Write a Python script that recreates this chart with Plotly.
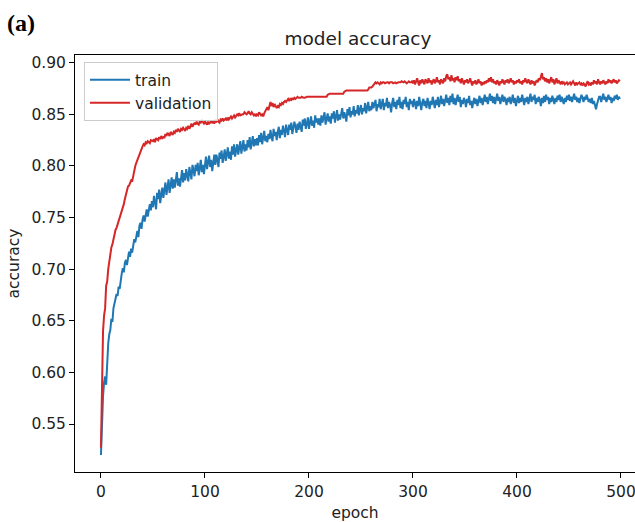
import plotly.graph_objects as go

epochs = list(range(500))

train_acc = [
    0.520, 0.561, 0.577, 0.590, 0.596, 0.588, 0.612, 0.628, 0.637, 0.641,
    0.652, 0.649, 0.662, 0.668, 0.671, 0.676, 0.674, 0.683, 0.681, 0.690,
    0.696, 0.701, 0.697, 0.706, 0.709, 0.704, 0.714, 0.717, 0.712, 0.720,
    0.716, 0.724, 0.729, 0.726, 0.733, 0.737, 0.731, 0.742, 0.745, 0.739,
    0.748, 0.752, 0.746, 0.755, 0.758, 0.751, 0.760, 0.763, 0.757, 0.766,
    0.760, 0.771, 0.765, 0.758, 0.774, 0.768, 0.777, 0.764, 0.772, 0.779,
    0.769, 0.780, 0.784, 0.772, 0.778, 0.787, 0.774, 0.783, 0.789, 0.778,
    0.787, 0.779, 0.790, 0.794, 0.781, 0.788, 0.780, 0.792, 0.796, 0.784,
    0.793, 0.786, 0.797, 0.791, 0.785, 0.799, 0.792, 0.787, 0.801, 0.794,
    0.790, 0.801, 0.795, 0.803, 0.791, 0.798, 0.806, 0.794, 0.801, 0.792,
    0.803, 0.809, 0.797, 0.804, 0.810, 0.799, 0.806, 0.795, 0.805, 0.811,
    0.801, 0.811, 0.806, 0.799, 0.813, 0.807, 0.815, 0.803, 0.809, 0.816,
    0.805, 0.812, 0.818, 0.807, 0.814, 0.806, 0.819, 0.811, 0.821, 0.809,
    0.815, 0.821, 0.811, 0.818, 0.824, 0.812, 0.819, 0.825, 0.814, 0.821,
    0.815, 0.825, 0.818, 0.828, 0.816, 0.823, 0.829, 0.819, 0.826, 0.820,
    0.827, 0.820, 0.830, 0.823, 0.832, 0.821, 0.828, 0.834, 0.824, 0.829,
    0.823, 0.831, 0.826, 0.835, 0.828, 0.824, 0.836, 0.829, 0.833, 0.825,
    0.833, 0.838, 0.827, 0.835, 0.830, 0.839, 0.834, 0.828, 0.840, 0.835,
    0.830, 0.840, 0.835, 0.842, 0.831, 0.837, 0.843, 0.838, 0.832, 0.841,
    0.835, 0.843, 0.838, 0.833, 0.845, 0.839, 0.846, 0.836, 0.841, 0.847,
    0.836, 0.843, 0.848, 0.839, 0.844, 0.837, 0.849, 0.842, 0.846, 0.840,
    0.846, 0.839, 0.849, 0.842, 0.847, 0.852, 0.840, 0.845, 0.851, 0.843,
    0.848, 0.841, 0.851, 0.846, 0.853, 0.842, 0.849, 0.854, 0.844, 0.850,
    0.845, 0.851, 0.856, 0.846, 0.852, 0.848, 0.843, 0.855, 0.849, 0.857,
    0.847, 0.853, 0.850, 0.858, 0.848, 0.854, 0.851, 0.859, 0.849, 0.855,
    0.859, 0.850, 0.856, 0.853, 0.861, 0.851, 0.857, 0.862, 0.853, 0.858,
    0.854, 0.862, 0.856, 0.859, 0.864, 0.853, 0.860, 0.857, 0.865, 0.855,
    0.860, 0.865, 0.854, 0.861, 0.858, 0.866, 0.856, 0.862, 0.859, 0.852,
    0.861, 0.866, 0.857, 0.862, 0.855, 0.864, 0.859, 0.867, 0.856, 0.862,
    0.855, 0.864, 0.860, 0.867, 0.857, 0.862, 0.854, 0.865, 0.860, 0.863,
    0.857, 0.865, 0.861, 0.855, 0.863, 0.858, 0.867, 0.860, 0.854, 0.862,
    0.865, 0.858, 0.863, 0.856, 0.866, 0.861, 0.855, 0.863, 0.859, 0.867,
    0.861, 0.856, 0.864, 0.859, 0.867, 0.857, 0.862, 0.868, 0.860, 0.865,
    0.858, 0.863, 0.869, 0.861, 0.866, 0.859, 0.868, 0.862, 0.870, 0.860,
    0.866, 0.859, 0.864, 0.869, 0.862, 0.867, 0.857, 0.864, 0.860, 0.866,
    0.863, 0.857, 0.865, 0.861, 0.868, 0.859, 0.863, 0.856, 0.862, 0.866,
    0.860, 0.865, 0.858, 0.863, 0.868, 0.861, 0.866, 0.859, 0.864, 0.869,
    0.862, 0.867, 0.860, 0.866, 0.870, 0.863, 0.868, 0.861, 0.867, 0.860,
    0.865, 0.870, 0.863, 0.867, 0.860, 0.865, 0.869, 0.862, 0.867, 0.864,
    0.859, 0.866, 0.862, 0.867, 0.860, 0.864, 0.869, 0.861, 0.866, 0.858,
    0.864, 0.868, 0.861, 0.866, 0.862, 0.869, 0.864, 0.859, 0.866, 0.862,
    0.867, 0.860, 0.865, 0.870, 0.862, 0.867, 0.864, 0.869, 0.860, 0.866,
    0.862, 0.867, 0.864, 0.858, 0.866, 0.861, 0.868, 0.862, 0.869, 0.864,
    0.867, 0.860, 0.866, 0.862, 0.868, 0.864, 0.860, 0.866, 0.862, 0.868,
    0.864, 0.869, 0.862, 0.867, 0.864, 0.860, 0.866, 0.862, 0.868, 0.864,
    0.869, 0.863, 0.867, 0.862, 0.866, 0.870, 0.864, 0.867, 0.862, 0.866,
    0.861, 0.865, 0.869, 0.866, 0.862, 0.867, 0.864, 0.869, 0.865, 0.862,
    0.865, 0.861, 0.866, 0.860, 0.863, 0.857, 0.855, 0.860, 0.865, 0.867,
    0.867, 0.862, 0.866, 0.870, 0.864, 0.867, 0.862, 0.866, 0.869, 0.864,
    0.867, 0.861, 0.866, 0.863, 0.868, 0.865, 0.869, 0.864, 0.867, 0.865,
]

val_acc = [
    0.527, 0.598, 0.640, 0.655, 0.662, 0.684, 0.688, 0.700, 0.709, 0.716,
    0.721, 0.724, 0.730, 0.734, 0.738, 0.740, 0.743, 0.746, 0.749, 0.752,
    0.755, 0.758, 0.763, 0.768, 0.772, 0.778, 0.780, 0.781, 0.783, 0.786,
    0.785, 0.791, 0.797, 0.800, 0.803, 0.806, 0.809, 0.812, 0.815, 0.818,
    0.819, 0.821, 0.820, 0.823, 0.822, 0.824, 0.823, 0.822, 0.825, 0.824,
    0.824, 0.826, 0.823, 0.827, 0.826, 0.825, 0.828, 0.826, 0.829, 0.827,
    0.828, 0.827, 0.831, 0.829, 0.832, 0.830, 0.829, 0.833, 0.831, 0.830,
    0.833, 0.832, 0.835, 0.833, 0.836, 0.834, 0.833, 0.836, 0.835, 0.837,
    0.835, 0.834, 0.837, 0.836, 0.839, 0.836, 0.838, 0.841, 0.838, 0.840,
    0.842, 0.840, 0.843, 0.841, 0.840, 0.843, 0.842, 0.844, 0.842, 0.841,
    0.843, 0.842, 0.840, 0.843, 0.841, 0.842, 0.844, 0.842, 0.843, 0.841,
    0.844, 0.843, 0.845, 0.843, 0.842, 0.845, 0.844, 0.846, 0.844, 0.845,
    0.846, 0.844, 0.847, 0.845, 0.846, 0.848, 0.846, 0.847, 0.849, 0.847,
    0.848, 0.850, 0.849, 0.851, 0.849, 0.850, 0.850, 0.850, 0.852, 0.851,
    0.850, 0.851, 0.853, 0.851, 0.850, 0.852, 0.851, 0.849, 0.850, 0.848,
    0.850, 0.849, 0.852, 0.851, 0.849, 0.850, 0.848, 0.851, 0.853, 0.855,
    0.857, 0.854, 0.859, 0.862, 0.858, 0.861, 0.857, 0.860, 0.858, 0.856,
    0.858, 0.857, 0.860, 0.859, 0.861, 0.860, 0.862, 0.863, 0.862, 0.864,
    0.865, 0.863, 0.865, 0.864, 0.866, 0.864, 0.866, 0.865, 0.866, 0.867,
    0.866, 0.866, 0.866, 0.867, 0.866, 0.866, 0.866, 0.867, 0.867, 0.867,
    0.867, 0.867, 0.867, 0.867, 0.867, 0.867, 0.867, 0.867, 0.867, 0.867,
    0.867, 0.867, 0.867, 0.867, 0.867, 0.867, 0.867, 0.867, 0.869, 0.870,
    0.870, 0.870, 0.870, 0.870, 0.870, 0.870, 0.870, 0.870, 0.870, 0.870,
    0.870, 0.870, 0.870, 0.870, 0.872, 0.873, 0.873, 0.873, 0.873, 0.873,
    0.873, 0.873, 0.873, 0.873, 0.873, 0.873, 0.873, 0.873, 0.873, 0.873,
    0.873, 0.873, 0.873, 0.873, 0.873, 0.873, 0.873, 0.874, 0.876, 0.876,
    0.876, 0.877, 0.878, 0.879, 0.881, 0.880, 0.881, 0.880, 0.879, 0.881,
    0.880, 0.881, 0.881, 0.880, 0.881, 0.881, 0.881, 0.880, 0.881, 0.881,
    0.881, 0.880, 0.881, 0.881, 0.880, 0.881, 0.881, 0.881, 0.881, 0.882,
    0.881, 0.881, 0.882, 0.881, 0.880, 0.881, 0.882, 0.881, 0.881, 0.882,
    0.880, 0.883, 0.879, 0.882, 0.885, 0.881, 0.878, 0.883, 0.880, 0.884,
    0.881, 0.879, 0.884, 0.882, 0.880, 0.885, 0.881, 0.883, 0.879, 0.882,
    0.884, 0.880, 0.882, 0.886, 0.881, 0.883, 0.879, 0.884, 0.882, 0.880,
    0.885, 0.882, 0.887, 0.889, 0.884, 0.886, 0.882, 0.888, 0.883, 0.885,
    0.881, 0.886, 0.883, 0.887, 0.882, 0.884, 0.880, 0.885, 0.882, 0.879,
    0.883, 0.881, 0.884, 0.880, 0.882, 0.885, 0.881, 0.878, 0.882, 0.880,
    0.883, 0.879, 0.881, 0.884, 0.880, 0.882, 0.878, 0.881, 0.879, 0.882,
    0.880, 0.883, 0.881, 0.885, 0.882, 0.886, 0.881, 0.884, 0.880, 0.882,
    0.879, 0.883, 0.881, 0.878, 0.882, 0.880, 0.884, 0.881, 0.879, 0.883,
    0.881, 0.884, 0.880, 0.882, 0.885, 0.881, 0.883, 0.879, 0.882, 0.880,
    0.883, 0.881, 0.884, 0.880, 0.882, 0.879, 0.883, 0.881, 0.885, 0.882,
    0.880, 0.884, 0.881, 0.879, 0.883, 0.880, 0.882, 0.878, 0.881, 0.883,
    0.881, 0.885, 0.883, 0.887, 0.890, 0.884, 0.886, 0.882, 0.885, 0.881,
    0.884, 0.880, 0.883, 0.886, 0.881, 0.884, 0.879, 0.882, 0.885, 0.880,
    0.883, 0.881, 0.879, 0.882, 0.880, 0.881, 0.879, 0.880, 0.881, 0.879,
    0.880, 0.881, 0.879, 0.880, 0.882, 0.880, 0.878, 0.881, 0.879, 0.880,
    0.881, 0.879, 0.880, 0.878, 0.880, 0.879, 0.877, 0.880, 0.882, 0.879,
    0.880, 0.878, 0.881, 0.879, 0.883, 0.880, 0.882, 0.879, 0.884, 0.881,
    0.879, 0.882, 0.880, 0.883, 0.881, 0.879, 0.882, 0.880, 0.884, 0.881,
    0.883, 0.880, 0.882, 0.884, 0.881, 0.883, 0.880, 0.882, 0.883, 0.882,
]

x_ticks = [0, 100, 200, 300, 400, 500]
y_ticks = [0.55, 0.60, 0.65, 0.70, 0.75, 0.80, 0.85, 0.90]
y_tick_labels = ["0.55", "0.60", "0.65", "0.70", "0.75", "0.80", "0.85", "0.90"]

BLUE = "#1f77b4"
RED = "#d62728"
FONT = "DejaVu Sans"
TXT = "#222222"

fig = go.Figure()
fig.add_trace(go.Scatter(x=epochs, y=train_acc, mode="lines", name="train",
                         line=dict(color=BLUE, width=2)))
fig.add_trace(go.Scatter(x=epochs, y=val_acc, mode="lines", name="validation",
                         line=dict(color=RED, width=2)))

fig.update_layout(
    width=635, height=522,
    margin=dict(l=75, r=0, t=55, b=50),
    paper_bgcolor="white", plot_bgcolor="white",
    font=dict(family=FONT, size=15.5, color=TXT),
    title=dict(text="model accuracy", x=(358 - 75) / 560, xref="paper", xanchor="center",
               y=1 - 39 / 522, yanchor="middle",
               font=dict(family=FONT, size=18.5, color=TXT)),
    legend=dict(x=0.016, y=0.983, xanchor="left", yanchor="top",
                bgcolor="rgba(255,255,255,0.8)", bordercolor="#cccccc", borderwidth=1,
                font=dict(family=FONT, size=15.5, color=TXT),
                itemwidth=40),
    showlegend=True,
)
fig.update_xaxes(range=[-24.95, 513.5], tickvals=x_ticks, showgrid=False, zeroline=False,
                 showline=True, linecolor="black", linewidth=1, mirror=True,
                 ticks="outside", ticklen=5, tickcolor="black", ticklabeloverflow="allow",
                 title=dict(text="epoch", font=dict(family=FONT, size=15.5, color=TXT), standoff=7))
fig.update_yaxes(range=[0.5035, 0.9075], tickvals=y_ticks, ticktext=y_tick_labels,
                 showgrid=False, zeroline=False,
                 showline=True, linecolor="black", linewidth=1, mirror=False,
                 ticks="outside", ticklen=5, tickcolor="black",
                 title=dict(text="accuracy", font=dict(family=FONT, size=15.5, color=TXT), standoff=7))

fig.add_annotation(text="<b>(a)</b>", xref="paper", yref="paper",
                   x=-70 / 560, y=(522 - 50 - 23) / 417, xanchor="left", yanchor="middle",
                   showarrow=False, font=dict(family="Liberation Serif", size=24, color="black"))

fig.write_html("out.html")
